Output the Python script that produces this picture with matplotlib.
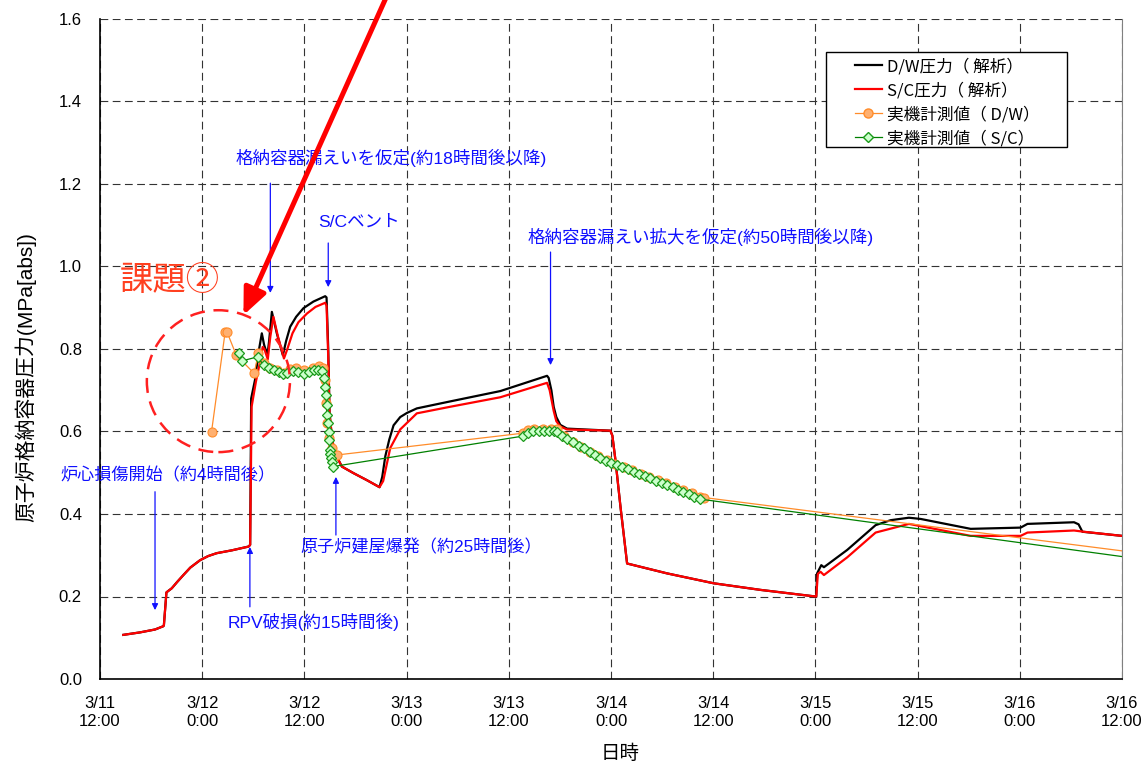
import numpy as np
import matplotlib
matplotlib.use("Agg")
import matplotlib.pyplot as plt
from matplotlib.patches import Ellipse, Rectangle
from matplotlib.lines import Line2D

plt.rcParams['font.family'] = ['Liberation Sans', 'Noto Sans CJK JP', 'DejaVu Sans']

# hours after 3/11 12:00
dw_calc_t = [2.74, 4.7, 6.46, 7.44, 7.5, 7.8, 8.43, 9.05, 9.79, 10.6, 11.75, 12.7, 13.7, 15.5, 17.43, 17.63,
             17.75, 18.2, 18.6, 19.0, 19.27, 19.66, 19.86, 20.18, 20.76, 21.47, 21.86, 22.33, 23.03, 23.89, 25.06,
             26.44, 26.6, 26.8, 26.95, 27.26, 27.6, 28.4, 29.77, 31.34, 32.82, 33.14, 33.5, 33.96, 34.47, 35.25,
             36.04, 37.2, 41.13, 47.0, 52.49, 52.68, 53.0, 53.27, 53.58, 54.05, 54.84, 59.93, 60.16, 60.52, 61.1,
             61.89, 66.59, 72.07, 77.56, 84.02, 84.1, 84.2, 84.69, 85.0, 87.74, 91.07, 92.83, 94.98, 96.36, 102.23,
             108.1, 108.9, 114.37, 114.9, 115.35, 120.0]
dw_calc_p = [0.107, 0.113, 0.12, 0.128, 0.13, 0.21, 0.22, 0.235, 0.252, 0.27, 0.288, 0.298, 0.305, 0.312, 0.321, 0.325,
             0.68, 0.725, 0.79, 0.838, 0.81, 0.785, 0.82, 0.89, 0.838, 0.785, 0.82, 0.854, 0.878, 0.899, 0.915,
             0.928, 0.925, 0.80, 0.644, 0.58, 0.547, 0.515, 0.499, 0.482, 0.465, 0.49, 0.54, 0.58, 0.615, 0.635,
             0.645, 0.656, 0.673, 0.698, 0.735, 0.73, 0.70, 0.66, 0.635, 0.616, 0.607, 0.602, 0.59, 0.531, 0.42,
             0.28, 0.256, 0.232, 0.216, 0.200, 0.2, 0.256, 0.276, 0.271, 0.313, 0.373, 0.385, 0.391, 0.388, 0.364,
             0.367, 0.376, 0.38, 0.375, 0.357, 0.347]

sc_calc_t = [2.74, 4.7, 6.46, 7.44, 7.5, 7.8, 8.43, 9.05, 9.79, 10.6, 11.75, 12.7, 13.7, 15.5, 17.43, 17.63,
             17.8, 18.3, 18.8, 19.1, 19.3, 19.7, 20.0, 20.36, 20.9, 21.6, 22.0, 22.6, 23.3, 24.3, 25.3,
             26.44, 26.6, 26.8, 26.95, 27.26, 27.6, 28.4, 29.77, 31.34, 32.82, 33.25, 34.08, 35.25, 37.2, 41.13,
             47.0, 52.49, 52.8, 53.27, 53.58, 54.05, 54.84, 59.93, 60.16, 60.52, 61.1, 61.89, 66.59, 72.07, 77.56,
             84.02, 84.1, 84.29, 84.6, 85.0, 87.74, 91.07, 94.98, 102.23, 108.1, 108.9, 114.37, 115.5, 120.0]
sc_calc_p = [0.107, 0.113, 0.12, 0.128, 0.13, 0.21, 0.22, 0.235, 0.252, 0.27, 0.288, 0.298, 0.305, 0.312, 0.321, 0.325,
             0.66, 0.72, 0.77, 0.805, 0.80, 0.775, 0.83, 0.878, 0.83, 0.777, 0.80, 0.838, 0.865, 0.886, 0.902,
             0.912, 0.905, 0.78, 0.644, 0.58, 0.547, 0.515, 0.499, 0.482, 0.465, 0.48, 0.56, 0.605, 0.644, 0.66,
             0.683, 0.718, 0.70, 0.65, 0.625, 0.612, 0.605, 0.602, 0.59, 0.531, 0.42, 0.28, 0.256, 0.232, 0.216,
             0.200, 0.2, 0.255, 0.26, 0.252, 0.295, 0.355, 0.376, 0.347, 0.347, 0.355, 0.36, 0.357, 0.347]

dw_meas_t = [13.1, 14.7, 14.9, 16.0, 18.1, 18.6, 19.2, 20.0, 20.8, 21.6, 22.3, 23.0, 24.0, 25.0, 25.7, 26.2,
             26.4, 26.55, 26.7, 26.9, 27.2, 27.8, 49.7, 50.3, 51.0, 52.0, 53.0, 53.7, 54.5, 55.5, 56.5, 57.5,
             58.5, 59.5, 60.5, 61.5, 62.5, 63.5, 64.5, 65.5, 66.5, 67.5, 68.5, 69.5, 70.5, 70.9, 121.0]
dw_meas_p = [0.600, 0.842, 0.842, 0.785, 0.741, 0.790, 0.765, 0.755, 0.748, 0.742, 0.752, 0.755, 0.750, 0.755, 0.758,
             0.755, 0.725, 0.670, 0.62, 0.585, 0.56, 0.543, 0.596, 0.603, 0.606, 0.606, 0.606, 0.605, 0.59, 0.574,
             0.562, 0.550, 0.540, 0.530, 0.522, 0.514, 0.506, 0.498, 0.490, 0.482, 0.474, 0.466, 0.458, 0.450,
             0.442, 0.440, 0.308]

sc_meas_t = [16.37, 16.65, 18.5, 19.2, 19.8, 20.4, 21.0, 21.5, 22.0, 22.7, 23.3, 23.9, 24.5, 25.1, 25.6, 26.05,
             26.3, 26.45, 26.55, 26.6, 26.65, 26.75, 26.85, 26.9, 27.0, 27.05, 27.1, 27.2, 27.35, 49.7, 50.3,
             50.9, 51.5, 52.1, 52.7, 53.3, 53.7, 54.3, 54.8, 55.5, 56.2, 56.8, 57.5, 58.1, 58.75, 59.4, 60.0,
             60.7, 61.3, 62.0, 62.7, 63.3, 64.0, 64.6, 65.3, 66.0, 66.6, 67.3, 67.9, 68.5, 69.2, 69.8, 70.5, 121.0]
sc_meas_p = [0.791, 0.771, 0.781, 0.761, 0.755, 0.749, 0.744, 0.739, 0.742, 0.747, 0.745, 0.739, 0.745, 0.749,
             0.748, 0.747, 0.729, 0.709, 0.688, 0.665, 0.640, 0.620, 0.600, 0.579, 0.555, 0.545, 0.535, 0.525,
             0.515, 0.589, 0.597, 0.602, 0.602, 0.602, 0.602, 0.602, 0.600, 0.590, 0.583, 0.574, 0.566, 0.559,
             0.550, 0.543, 0.535, 0.529, 0.524, 0.519, 0.514, 0.509, 0.503, 0.497, 0.492, 0.487, 0.481, 0.475,
             0.470, 0.465, 0.459, 0.454, 0.448, 0.442, 0.436, 0.294]

tick_hours = [0, 12, 24, 36, 48, 60, 72, 84, 96, 108, 120]
tick_labels = ['3/11\n12:00', '3/12\n0:00', '3/12\n12:00', '3/13\n0:00', '3/13\n12:00', '3/14\n0:00',
               '3/14\n12:00', '3/15\n0:00', '3/15\n12:00', '3/16\n0:00', '3/16\n12:00']
legend_labels = ['D/W圧力（ 解析）', 'S/C圧力（ 解析）', '実機計測値（ D/W）', '実機計測値（ S/C）']

fig = plt.figure(figsize=(11.44, 7.65), dpi=100)
ax = fig.add_axes([100 / 1144, 1 - 679 / 765, 1022 / 1144, 660 / 765])

# analysis
ax.plot(dw_calc_t, dw_calc_p, color='black', lw=1.6, zorder=3)
ax.plot(sc_calc_t, sc_calc_p, color='#FF0000', lw=1.6, zorder=4)
# measured
ax.plot(dw_meas_t, dw_meas_p, color='#FF8C2A', lw=0.9, marker='o', ms=6.5,
        mfc='#FFB070', mec='#FF8C2A', mew=0.8, zorder=5)
ax.plot(sc_meas_t, sc_meas_p, color='#008000', lw=0.9, marker='D', ms=5,
        mfc='#CCFFCC', mec='#1A9A1A', mew=0.9, zorder=6)

ax.set_xlim(0, 120)
ax.set_ylim(0, 1.6)
ax.set_xticks(tick_hours)
ax.set_xticklabels(tick_labels, fontsize=12, linespacing=1.25)
ax.set_yticks(np.arange(0, 1.61, 0.2))
ax.set_yticklabels(['%.1f' % v for v in np.arange(0, 1.61, 0.2)], fontsize=12)
ax.tick_params(axis='x', length=0, pad=12)
ax.tick_params(axis='y', length=0, pad=13)
ax.grid(True, color='#333333', ls=(0, (7, 4)), lw=0.8)

ax.spines['top'].set_visible(False)
ax.spines['right'].set_color('#808080')
ax.spines['left'].set_linewidth(1.2)
ax.spines['bottom'].set_linewidth(1.2)

ax.set_ylabel('原子炉格納容器圧力(MPa[abs])', fontsize=15)
ax.yaxis.set_label_coords(-0.062, 0.457)
ax.set_xlabel('日時', fontsize=14)
ax.xaxis.set_label_coords(0.509, -0.1)

# legend (frame drawn separately to get the wide left margin)
handles = [Line2D([], [], color='black', lw=1.6),
           Line2D([], [], color='#FF0000', lw=1.6),
           Line2D([], [], color='#FF8C2A', lw=0.9, marker='o', ms=6.5, mfc='#FFB070', mec='#FF8C2A'),
           Line2D([], [], color='#008000', lw=0.9, marker='D', ms=5, mfc='#CCFFCC', mec='#1A9A1A')]
ax.add_patch(Rectangle((826 / 1144, 1 - 147 / 765), 241 / 1144, 95 / 765, transform=fig.transFigure,
                       facecolor='white', edgecolor='black', lw=1.0, zorder=10, clip_on=False))
leg = ax.legend(handles, legend_labels, loc='upper left', bbox_to_anchor=(855 / 1144, 1 - 58 / 765),
                bbox_transform=fig.transFigure, borderaxespad=0, borderpad=0, frameon=False,
                handlelength=1.6, labelspacing=0.42, handletextpad=0.3,
                prop={'family': ['Noto Sans CJK JP'], 'size': 12})
leg.set_zorder(11)

# blue notes
blue = '#1010FF'
arrow_kw = dict(arrowstyle='-|>', color=blue, lw=0.9, mutation_scale=9, shrinkA=0, shrinkB=0)
ax.text(15.9, 1.263, '格納容器漏えいを仮定(約18時間後以降)', color=blue, fontsize=12.6, va='center')
ax.annotate('', xy=(20.0, 0.936), xytext=(20.0, 1.202), arrowprops=arrow_kw)
ax.text(25.6, 1.108, 'S/Cベント', color=blue, fontsize=12.6, va='center')
ax.annotate('', xy=(26.8, 0.950), xytext=(26.8, 1.057), arrowprops=arrow_kw)
ax.text(50.2, 1.072, '格納容器漏えい拡大を仮定(約50時間後以降)', color=blue, fontsize=12.6, va='center')
ax.annotate('', xy=(52.9, 0.761), xytext=(52.9, 1.035), arrowprops=arrow_kw)
ax.text(-4.7, 0.495, '炉心損傷開始（約4時間後）', color=blue, fontsize=12.3, va='center', clip_on=False)
ax.annotate('', xy=(6.46, 0.167), xytext=(6.46, 0.454), arrowprops=arrow_kw)
ax.text(15.0, 0.139, 'RPV破損(約15時間後)', color=blue, fontsize=12.6, va='center')
ax.annotate('', xy=(17.6, 0.32), xytext=(17.6, 0.175), arrowprops=arrow_kw)
ax.text(23.5, 0.32, '原子炉建屋爆発（約25時間後）', color=blue, fontsize=12.3, va='center')
ax.annotate('', xy=(27.7, 0.49), xytext=(27.7, 0.349), arrowprops=arrow_kw)

# issue marker
ax.text(2.35, 0.967, '課題②', color='#FF4020', fontsize=24, va='center',
        family=['Noto Sans CJK JP'])
ax.add_patch(Ellipse((13.9, 0.722), 16.8, 0.344, fill=False, edgecolor='#FF2020',
                     lw=1.8, ls=(0, (6, 3.5)), zorder=7))
ax.annotate('', xy=(16.84, 0.882), xytext=(34.2, 1.68), annotation_clip=False,
            arrowprops=dict(arrowstyle='-|>,head_length=0.8,head_width=0.35', color='#FF0000',
                            lw=3.6, mutation_scale=20, shrinkA=0, shrinkB=0), zorder=8)

fig.savefig('out.png', dpi=100)
